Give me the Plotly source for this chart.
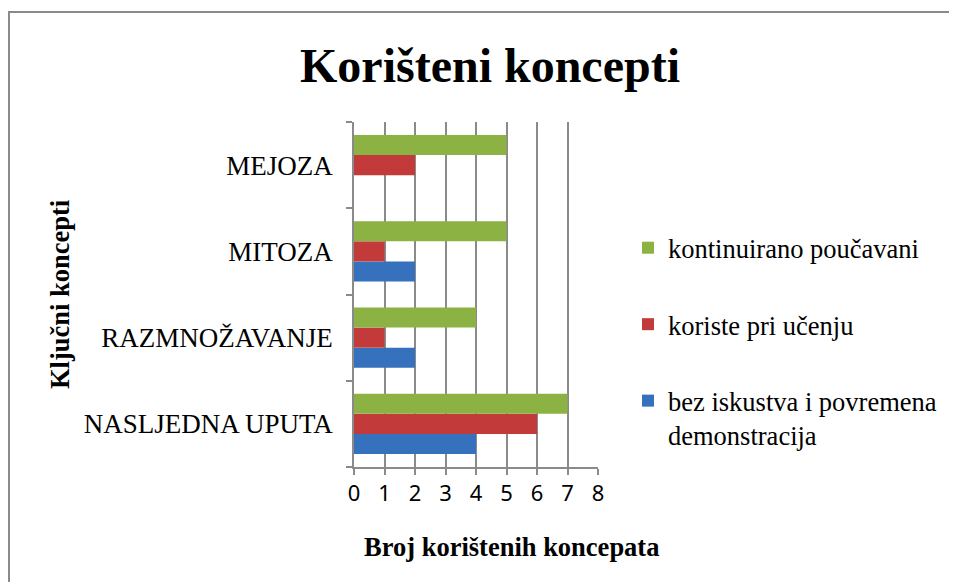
import plotly.graph_objects as go

categories = ["NASLJEDNA UPUTA", "RAZMNOŽAVANJE", "MITOZA", "MEJOZA"]
series_names = ["bez iskustva i povremena<br>demonstracija", "koriste pri učenju", "kontinuirano poučavani"]
bez_iskustva = [4, 2, 2, 0]
koriste = [6, 1, 1, 2]
kontinuirano = [7, 4, 5, 5]
x_ticks = [0, 1, 2, 3, 4, 5, 6, 7, 8]

colors = ["#3571bd", "#c23b3a", "#8db244"]
values = [bez_iskustva, koriste, kontinuirano]
ranks = [3, 2, 1]

OFF = 8  # page body margin
W, H = 957 - OFF, 582 - OFF
# plot area in reference pixel coordinates
L, R, T, B = 354, 598, 122, 467
l, r, t, b = L - OFF, R - OFF, T - OFF, B - OFF

fig = go.Figure()
for i, (name, vals, col, rk) in enumerate(zip(series_names, values, colors, ranks)):
    fig.add_trace(go.Bar(
        y=categories, x=vals, name=name, orientation="h",
        marker=dict(color=col, line=dict(width=0)),
        legendgroup=f"g{i}", legendrank=rk,
    ))

serif = "Liberation Serif, Times New Roman, serif"
grey = "#8a8a8a"

def px_x(p):
    return (p - L) / (R - L)

def px_y(p):
    return (B - p) / (B - T)

fig.update_layout(
    width=W, height=H,
    margin=dict(l=l, r=W - r, t=t, b=H - b, autoexpand=False),
    paper_bgcolor="white", plot_bgcolor="white",
    barmode="group", bargap=0.3, bargroupgap=0,
    showlegend=True,
    legend=dict(
        x=px_x(628), y=px_y(224), xanchor="left", yanchor="top",
        traceorder="grouped", tracegroupgap=39,
        font=dict(family=serif, size=26.5, color="#000000"),
        valign="top", bgcolor="rgba(0,0,0,0)",
    ),
    xaxis=dict(
        range=[0, 8], tickvals=x_ticks, ticktext=[str(v) for v in x_ticks],
        showgrid=True, gridcolor=grey, gridwidth=1.5,
        showline=True, linecolor=grey, linewidth=1.5,
        ticks="outside", ticklen=6, tickcolor=grey, tickwidth=1.5,
        zeroline=False,
        tickfont=dict(family="Noto Sans, Open Sans, sans-serif", size=22, color="#000000"),
        fixedrange=True,
    ),
    yaxis=dict(
        categoryorder="array", categoryarray=categories,
        showgrid=False, showline=True, linecolor=grey, linewidth=1.5,
        ticks="outside", tickson="boundaries", ticklen=6, tickcolor=grey, tickwidth=1.5,
        ticklabelstandoff=14,
        tickfont=dict(family=serif, size=27, color="#000000"),
        zeroline=False, fixedrange=True,
    ),
    annotations=[
        dict(text="<b>Korišteni koncepti</b>", x=px_x(490), y=px_y(65), xref="paper", yref="paper",
             xanchor="center", yanchor="middle", showarrow=False,
             font=dict(family=serif, size=48, color="#000000")),
        dict(text="<b>Broj korištenih koncepata</b>", x=px_x(511), y=px_y(547), xref="paper", yref="paper",
             xanchor="center", yanchor="middle", showarrow=False,
             font=dict(family=serif, size=26.5, color="#000000")),
        dict(text="<b>Ključni koncepti</b>", x=px_x(60), y=px_y(295), xref="paper", yref="paper",
             xanchor="center", yanchor="middle", showarrow=False, textangle=-90,
             font=dict(family=serif, size=26.5, color="#000000")),
    ],
    shapes=[
        dict(type="rect", xref="paper", yref="paper",
             x0=px_x(9), x1=px_x(975), y0=px_y(12), y1=px_y(620),
             line=dict(color="#8a8a8a", width=2), fillcolor="rgba(0,0,0,0)", layer="below"),
    ],
)

fig.write_html("out.html")
